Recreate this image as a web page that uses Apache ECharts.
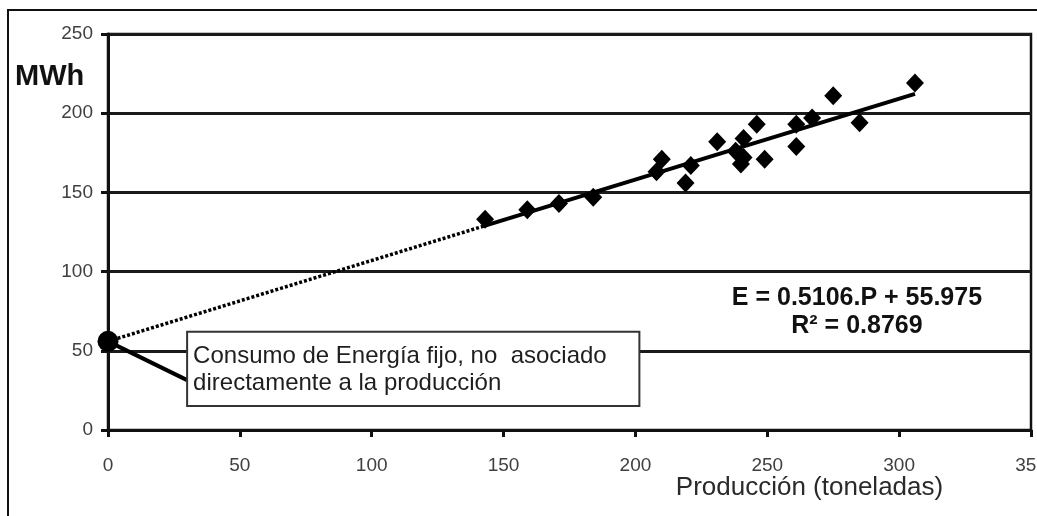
<!DOCTYPE html>
<html>
<head>
<meta charset="utf-8">
<script src="https://cdn.jsdelivr.net/npm/echarts@6/dist/echarts.min.js"></script>
<style>
  html, body { margin: 0; padding: 0; background: #fff; }
  #chart { width: 1037px; height: 516px; }
</style>
</head>
<body>
<div id="chart"></div>
<script>
// Producción mensual (toneladas) y consumo eléctrico (MWh)
const produccion = [143, 159, 171, 184, 208, 210, 219, 221, 231, 238, 241, 240, 241, 246, 249, 261, 261, 267, 275, 285, 306];
const energia    = [133, 139, 143, 147, 163, 171, 156, 167, 182, 176, 184, 168, 172, 193, 171, 193, 179, 197, 211, 194, 219];

// Recta de regresión lineal E = a·P + b
const pendiente = 0.5106;
const intercepto = 55.975;
const r2 = 0.8769;

// Escalas de los ejes
const xRango = [0, 350, 50];
const yRango = [0, 250, 50];

// Textos
const tituloY = 'MWh';
const tituloX = 'Producción (toneladas)';
const textoNota = 'Consumo de Energía fijo, no  asociado\ndirectamente a la producción';
const textoEcuacion = 'E = ' + pendiente + '.P + ' + intercepto + '\nR² = ' + r2;

const pMin = Math.min(...produccion);
const pMax = Math.max(...produccion);
const tramoAjuste = [[pMin, pendiente * pMin + intercepto], [pMax, pendiente * pMax + intercepto]];
const tramoExtrapolado = [[0, intercepto], [pMin, pendiente * pMin + intercepto]];

const fuente = '"Liberation Sans", Arial, sans-serif';

const chart = echarts.init(document.getElementById('chart'), null, { renderer: 'canvas' });

chart.setOption({
  animation: false,
  backgroundColor: '#ffffff',
  grid: {
    left: 108, right: 6, top: 34, bottom: 86,
    containLabel: false, outerBoundsMode: 'none',
    show: true, borderColor: '#111', borderWidth: 2.5, backgroundColor: 'transparent'
  },
  xAxis: {
    type: 'value',
    min: xRango[0], max: xRango[1], interval: xRango[2],
    axisLine: { show: true, onZero: false, lineStyle: { color: '#111', width: 3 } },
    axisTick: { show: true, inside: false, length: 7, lineStyle: { color: '#111', width: 3 } },
    splitLine: { show: false },
    axisLabel: { color: '#404040', fontFamily: fuente, fontSize: 19, margin: 26, showMaxLabel: true, hideOverlap: false }
  },
  yAxis: {
    type: 'value',
    min: yRango[0], max: yRango[1], interval: yRango[2],
    axisLine: { show: true, onZero: false, lineStyle: { color: '#111', width: 3 } },
    axisTick: { show: true, inside: false, length: 7, lineStyle: { color: '#111', width: 3 } },
    splitLine: { show: true, lineStyle: { color: '#1a1a1a', width: 3 } },
    axisLabel: { color: '#404040', fontFamily: fuente, fontSize: 19, margin: 15 }
  },
  series: [
    {
      name: 'extrapolación',
      type: 'line',
      data: tramoExtrapolado,
      symbol: 'none',
      lineStyle: { color: '#000', width: 3.5, type: [3, 2], opacity: 1 },
      z: 3
    },
    {
      name: 'ajuste',
      type: 'line',
      data: tramoAjuste,
      symbol: 'none',
      lineStyle: { color: '#000', width: 4, opacity: 1 },
      z: 3
    },
    {
      name: 'datos',
      type: 'scatter',
      data: produccion.map((p, i) => [p, energia[i]]),
      symbol: 'diamond',
      symbolSize: [18, 19],
      itemStyle: { color: '#000', opacity: 1 },
      z: 4
    },
    {
      name: 'consumo fijo',
      type: 'scatter',
      data: [[0, intercepto]],
      symbol: 'circle',
      symbolSize: 21,
      itemStyle: { color: '#000', opacity: 1 },
      z: 6
    }
  ]
});

// Anotaciones posicionadas en coordenadas de datos
const px = (x, y) => chart.convertToPixel({ gridIndex: 0 }, [x, y]);
const punto = px(0, intercepto);
const cajaA = px(30, 62);       // esquina superior izquierda de la nota
const cajaB = px(201.5, 15.2);  // esquina inferior derecha de la nota
const flecha = px(30, 31.5);
const ecuacion = px(284, 74.5);
const ejeX = px(266, 0);

chart.setOption({
  graphic: [
    {
      type: 'rect',
      shape: { x: 8, y: 10, width: 1200, height: 700 },
      style: { fill: 'none', stroke: '#111', lineWidth: 2 },
      silent: true, z: 0
    },
    {
      type: 'line',
      shape: { x1: punto[0], y1: punto[1], x2: flecha[0], y2: flecha[1] },
      style: { stroke: '#000', lineWidth: 4 },
      z: 5
    },
    {
      type: 'rect',
      shape: { x: cajaA[0], y: cajaA[1], width: cajaB[0] - cajaA[0], height: cajaB[1] - cajaA[1] },
      style: { fill: '#ffffff', stroke: '#333', lineWidth: 2 },
      z: 7
    },
    {
      type: 'text',
      x: cajaA[0] + 6, y: cajaA[1] + 11,
      style: {
        text: textoNota, fill: '#1e1e1e', font: '24px ' + fuente,
        lineHeight: 27, textAlign: 'left', textVerticalAlign: 'top'
      },
      z: 8
    },
    {
      type: 'text',
      x: ecuacion[0], y: ecuacion[1],
      style: {
        text: textoEcuacion, fill: '#111', font: 'bold 25px ' + fuente,
        lineHeight: 28, textAlign: 'center', textVerticalAlign: 'middle'
      },
      z: 8
    },
    {
      type: 'text',
      x: 15, y: 77,
      style: { text: tituloY, fill: '#111', font: 'bold 29px ' + fuente, textAlign: 'left', textVerticalAlign: 'middle' },
      z: 8
    },
    {
      type: 'text',
      x: ejeX[0], y: 488,
      style: { text: tituloX, fill: '#2a2a2a', font: '26px ' + fuente, textAlign: 'center', textVerticalAlign: 'middle' },
      z: 8
    }
  ]
});
</script>
</body>
</html>
